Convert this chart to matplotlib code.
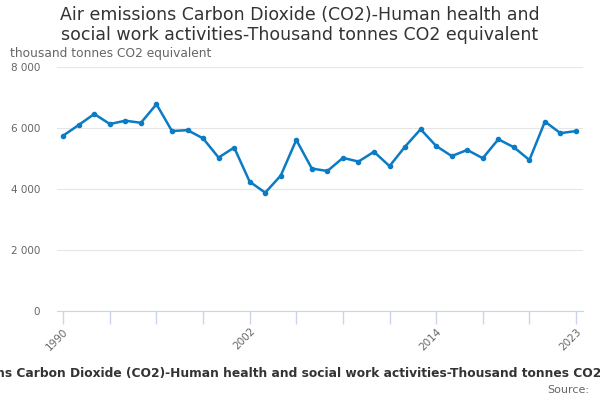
import matplotlib
matplotlib.use('Agg')
import matplotlib.pyplot as plt

# data
years = list(range(1990, 2024))
emissions = [5750, 6100, 6460, 6130, 6240, 6170, 6780, 5900, 5930, 5660,
             5030, 5360, 4240, 3880, 4440, 5610, 4670, 4590, 5020, 4900,
             5220, 4750, 5390, 5960, 5410, 5080, 5280, 5010, 5630, 5370,
             4950, 6210, 5830, 5900]
tick_years = list(range(1990, 2024, 3))
label_years = [1990, 2002, 2014, 2023]
y_ticks = [0, 2000, 4000, 6000, 8000]

title = 'Air emissions Carbon Dioxide (CO2)-Human health and\nsocial work activities-Thousand tonnes CO2 equivalent'
caption = 'Air emissions Carbon Dioxide (CO2)-Human health and social work activities-Thousand tonnes CO2 equivalent'

plt.rcParams['font.family'] = 'DejaVu Sans'
fig = plt.figure(figsize=(6, 4), dpi=100)
ax = fig.add_axes([57/600, 1-311/400, (583-57)/600, (311-67)/400])

ax.plot(years, emissions, color='#0a7bc4', lw=1.8, marker='o', ms=3)

ax.set_ylim(0, 8000)
ax.set_xlim(1989.6, 2023.45)
ax.set_yticks(y_ticks)
ax.set_yticklabels([f'{v:,}'.replace(',', ' ') for v in y_ticks], fontsize=7.5, color='#666666')
ax.grid(axis='y', color='#e6e6e6', lw=0.8)
ax.set_axisbelow(True)
ax.tick_params(axis='y', length=0, pad=12)

ax.set_xticks(tick_years)
ax.set_xticklabels([str(y) if y in label_years else '' for y in tick_years],
                   rotation=45, ha='right', rotation_mode='anchor',
                   fontsize=7.5, color='#666666')
ax.tick_params(axis='x', length=9, color='#ccd6eb', width=1, pad=2)

for s in ['top', 'right', 'left']:
    ax.spines[s].set_visible(False)
ax.spines['bottom'].set_color('#ccd6eb')

fig.text(0.5, 0.985, title, ha='center', va='top', fontsize=12.5, color='#333333',
         linespacing=1.15)
fig.text(10/600, 1-53/400, 'thousand tonnes CO2 equivalent', ha='left', va='center',
         fontsize=8.8, color='#666666')
fig.text(0.5, 1-373/400, caption, ha='center', va='center', fontsize=8.8,
         fontweight='bold', color='#333333')
fig.text(589/600, 1-390/400, 'Source:', ha='right', va='center', fontsize=8,
         color='#666666')

fig.savefig('out.png', dpi=100)
